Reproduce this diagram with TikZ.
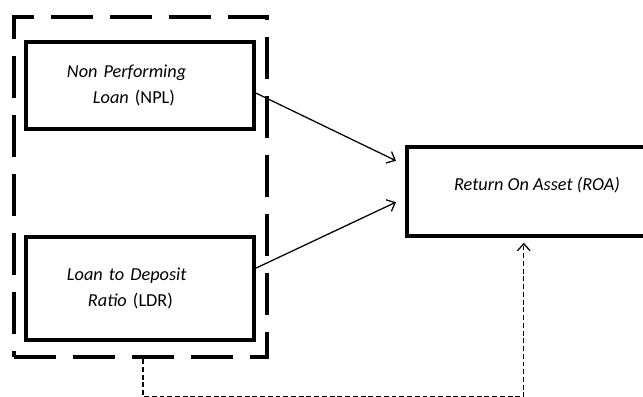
\documentclass[tikz,border=0pt]{standalone}
\usepackage{fontspec}
\setmainfont{Carlito}
\usetikzlibrary{arrows.meta}

\begin{document}
\begin{tikzpicture}[x=0.025cm,y=-0.025cm,
        box/.style={draw,line width=2.8pt,inner sep=0pt,minimum width=5.7cm,font=\fontsize{13}{19}\selectfont},
        link/.style={line width=0.9pt,-{Straight Barb[length=5pt,width=9pt]}},
        dashlink/.style={link,dash pattern=on 3.5pt off 2pt}]
        \useasboundingbox (0,0) rectangle (643,396);
        \clip (0,0) rectangle (643,396);
        %% independent variables, grouped
        \node[draw,line width=3pt,dash pattern=on 1.05cm off 0.425cm,minimum width=6.325cm,minimum height=8.5cm] (group) at (140.5,187) {};
        \node[box,minimum height=2.175cm,text width=3.65cm,align=left] (npl) at (140,85.5) {\textit{Non Performing}\\\hspace*{0.65cm}\textit{Loan} (NPL)};
        \node[box,minimum height=2.575cm,text width=3.65cm,align=left] (ldr) at (140,288.5) {\textit{Loan to Deposit}\\\hspace*{0.525cm}\textit{Ratio} (LDR)};
        %% dependent variable
        \node[box,minimum width=6.5cm,minimum height=2.225cm,text height=0.3cm,text depth=0.36cm] (roa) at (537,191.5) {\textit{Return On Asset (ROA)}};
        %% partial effects
        \draw[link,shorten >=0.25cm] ([yshift=-0.19cm]npl.east) -- ([yshift=0.66cm]roa.west);
        \draw[link,shorten >=0.25cm] ([yshift=0.51cm]ldr.east) -- ([yshift=-0.16cm]roa.west);
        %% joint effect
        \draw[dashlink,shorten >=0.12cm] ([xshift=0.06cm]group.south) -- ++(0,37.5) -| ([xshift=-0.33cm]roa.south);
\end{tikzpicture}
\end{document}
